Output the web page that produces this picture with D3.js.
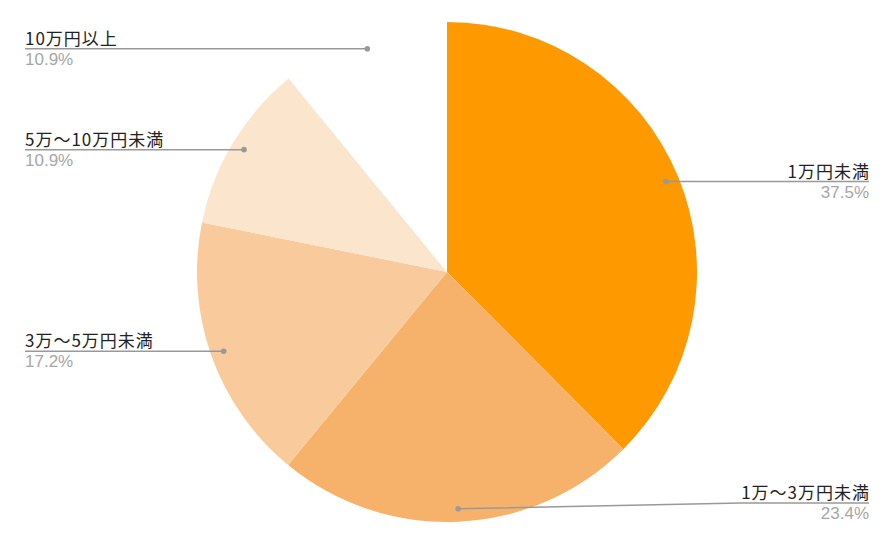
<!DOCTYPE html>
<html><head><meta charset="utf-8">
<script src="https://cdn.jsdelivr.net/npm/d3@7"></script>
<style>
html,body{margin:0;padding:0;background:#fff;}
svg{display:block;}
</style></head>
<body>
<svg id="chart" width="895" height="545"></svg>
<script>
const categories = ["1万円未満", "1万〜3万円未満", "3万〜5万円未満", "5万〜10万円未満", "10万円以上"];
const values = [37.5, 23.4, 17.2, 10.9, 10.9];
const percentLabels = ["37.5%", "23.4%", "17.2%", "10.9%", "10.9%"];
const colors = ["#ff9900", "#f6b26b", "#f9cb9c", "#fce5cd", "#ffffff"];

const W = 895, H = 545;
const cx = 447, cy = 272, R = 250, dotR = 237;
const leftX = 25, rightX = 869, minY = 48, maxY = 503;
const ls = 1.0;

const svg = d3.select("#chart");
const g = svg.append("g").attr("transform", `translate(${cx},${cy})`);

const data = categories.map((c, i) => ({name: c, value: values[i], pct: percentLabels[i], color: colors[i]}));
const pie = d3.pie().value(d => d.value).sort(null);
const arcs = pie(data);
const arc = d3.arc().innerRadius(0).outerRadius(R);
const dotArc = d3.arc().innerRadius(dotR).outerRadius(dotR);

g.selectAll("path.slice").data(arcs).enter().append("path")
  .attr("class", "slice")
  .attr("d", arc)
  .attr("fill", d => d.data.color);

const labelFont = "'Noto Sans CJK JP', 'Noto Sans', sans-serif";
const pctFont = "Arial, 'Liberation Sans', sans-serif";

const lg = svg.append("g");
arcs.forEach(a => {
  const [dx, dy] = dotArc.centroid(a);
  const px = cx + dx, py = cy + dy;
  const mid = (a.startAngle + a.endAngle) / 2;
  const right = mid < Math.PI;
  const ly = Math.max(minY, Math.min(maxY, py));
  const t = lg.append("text")
    .attr("y", ly - 4)
    .attr("font-family", labelFont)
    .attr("font-size", 17)
    .attr("letter-spacing", ls)
    .attr("fill", "#222")
    .attr("text-anchor", right ? "end" : "start")
    .attr("x", right ? rightX + ls : leftX)
    .text(a.data.name);
  const bb = t.node().getBBox();
  const textInner = right ? bb.x : bb.x + bb.width;
  let pts;
  if (right) {
    pts = Math.abs(ly - py) > 0.5 ? [[px, py], [textInner, ly], [rightX, ly]] : [[px, py], [rightX, ly]];
  } else {
    pts = Math.abs(ly - py) > 0.5 ? [[px, py], [textInner, ly], [leftX, ly]] : [[px, py], [leftX, ly]];
  }
  lg.append("path")
    .attr("d", d3.line()(pts))
    .attr("fill", "none")
    .attr("stroke", "#999")
    .attr("stroke-width", 1.5);
  lg.append("circle").attr("cx", px).attr("cy", py).attr("r", 2.8).attr("fill", "#999");
  lg.append("text")
    .attr("y", ly + 16)
    .attr("font-family", pctFont)
    .attr("font-size", 17)
    .attr("fill", "#a6a6a6")
    .attr("text-anchor", right ? "end" : "start")
    .attr("x", right ? rightX : leftX)
    .text(a.data.pct);
});
</script>
</body></html>
